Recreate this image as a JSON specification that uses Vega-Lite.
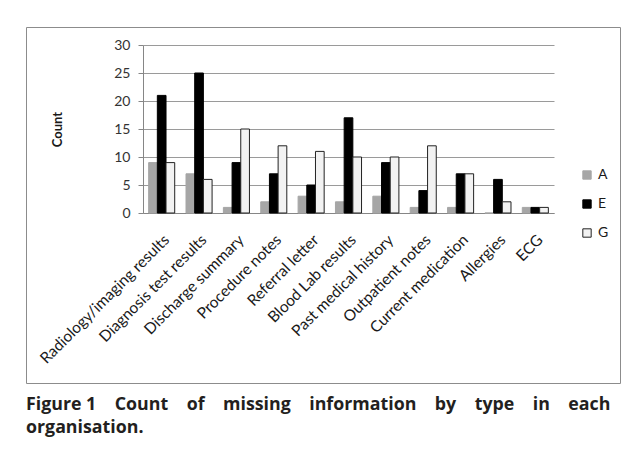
{
  "$schema": "https://vega.github.io/schema/vega-lite/v6.json",
  "width": 594,
  "height": 356,
  "padding": {"left": 26, "top": 27, "right": 9, "bottom": 5},
  "background": "white",
  "config": {
    "view": {"stroke": "#8c8c8c", "strokeWidth": 1},
    "font": "Lato"
  },
  "title": {
    "text": ["Figure 1 \u00a0\u00a0\u00a0Count \u00a0\u00a0\u00a0of \u00a0\u00a0\u00a0missing \u00a0\u00a0\u00a0information \u00a0\u00a0\u00a0by \u00a0\u00a0\u00a0type \u00a0\u00a0\u00a0in \u00a0\u00a0\u00a0each", "organisation."],
    "orient": "bottom",
    "anchor": "start",
    "frame": "group",
    "font": "Open Sans",
    "fontSize": 17.8,
    "fontWeight": "bold",
    "color": "#231f20",
    "offset": 13,
    "lineHeight": 23
  },
  "data": {
    "values": [
      {"type": "Radiology/imaging results", "org": "A", "count": 9},
      {"type": "Radiology/imaging results", "org": "E", "count": 21},
      {"type": "Radiology/imaging results", "org": "G", "count": 9},
      {"type": "Diagnosis test results", "org": "A", "count": 7},
      {"type": "Diagnosis test results", "org": "E", "count": 25},
      {"type": "Diagnosis test results", "org": "G", "count": 6},
      {"type": "Discharge summary", "org": "A", "count": 1},
      {"type": "Discharge summary", "org": "E", "count": 9},
      {"type": "Discharge summary", "org": "G", "count": 15},
      {"type": "Procedure notes", "org": "A", "count": 2},
      {"type": "Procedure notes", "org": "E", "count": 7},
      {"type": "Procedure notes", "org": "G", "count": 12},
      {"type": "Referral letter", "org": "A", "count": 3},
      {"type": "Referral letter", "org": "E", "count": 5},
      {"type": "Referral letter", "org": "G", "count": 11},
      {"type": "Blood Lab results", "org": "A", "count": 2},
      {"type": "Blood Lab results", "org": "E", "count": 17},
      {"type": "Blood Lab results", "org": "G", "count": 10},
      {"type": "Past medical history", "org": "A", "count": 3},
      {"type": "Past medical history", "org": "E", "count": 9},
      {"type": "Past medical history", "org": "G", "count": 10},
      {"type": "Outpatient notes", "org": "A", "count": 1},
      {"type": "Outpatient notes", "org": "E", "count": 4},
      {"type": "Outpatient notes", "org": "G", "count": 12},
      {"type": "Current medication", "org": "A", "count": 1},
      {"type": "Current medication", "org": "E", "count": 7},
      {"type": "Current medication", "org": "G", "count": 7},
      {"type": "Allergies", "org": "A", "count": 0},
      {"type": "Allergies", "org": "E", "count": 6},
      {"type": "Allergies", "org": "G", "count": 2},
      {"type": "ECG", "org": "A", "count": 1},
      {"type": "ECG", "org": "E", "count": 1},
      {"type": "ECG", "org": "G", "count": 1}
    ]
  },
  "mark": {"type": "bar", "strokeWidth": 1},
  "encoding": {
    "x": {
      "field": "type",
      "type": "nominal",
      "sort": null,
      "scale": {"range": [117, 528], "paddingInner": 0, "paddingOuter": 0},
      "axis": {
        "title": null,
        "offset": -170,
        "labelAngle": -45,
        "labelFontSize": 15.5,
        "labelColor": "#1a1a1a",
        "labelPadding": 19,
        "ticks": false,
        "domainColor": "#868686",
        "labelLimit": 300
      }
    },
    "xOffset": {
      "field": "org",
      "type": "nominal",
      "scale": {"paddingOuter": 0.65, "paddingInner": 0}
    },
    "y": {
      "field": "count",
      "type": "quantitative",
      "scale": {"domain": [0, 30], "range": [186, 18], "nice": false},
      "axis": {
        "title": "Count",
        "titleFontSize": 13,
        "titleFontWeight": "bold",
        "titleColor": "#1a1a1a",
        "titlePadding": 49,
        "offset": -117,
        "values": [0, 5, 10, 15, 20, 25, 30],
        "labelFontSize": 14,
        "labelColor": "#333333",
        "labelPadding": 8,
        "tickColor": "#868686",
        "tickSize": 5,
        "domainColor": "#868686",
        "gridColor": "#9a9a9a",
        "gridWidth": 1
      }
    },
    "fill": {
      "field": "org",
      "type": "nominal",
      "scale": {"domain": ["A", "E", "G"], "range": ["#a6a6a6", "#000000", "#f2f2f2"]},
      "legend": {
        "title": null,
        "orient": "none",
        "legendX": 554,
        "legendY": 141,
        "symbolType": "square",
        "symbolSize": 70,
        "labelFontSize": 14,
        "labelColor": "#1a1a1a",
        "rowPadding": 15,
        "symbolStrokeWidth": 1
      }
    },
    "stroke": {
      "field": "org",
      "type": "nominal",
      "scale": {"domain": ["A", "E", "G"], "range": ["#a6a6a6", "#000000", "#222222"]},
      "legend": {
        "title": null,
        "orient": "none",
        "legendX": 554,
        "legendY": 141,
        "symbolType": "square",
        "symbolSize": 70,
        "labelFontSize": 14,
        "labelColor": "#1a1a1a",
        "rowPadding": 15,
        "symbolStrokeWidth": 1
      }
    }
  }
}
